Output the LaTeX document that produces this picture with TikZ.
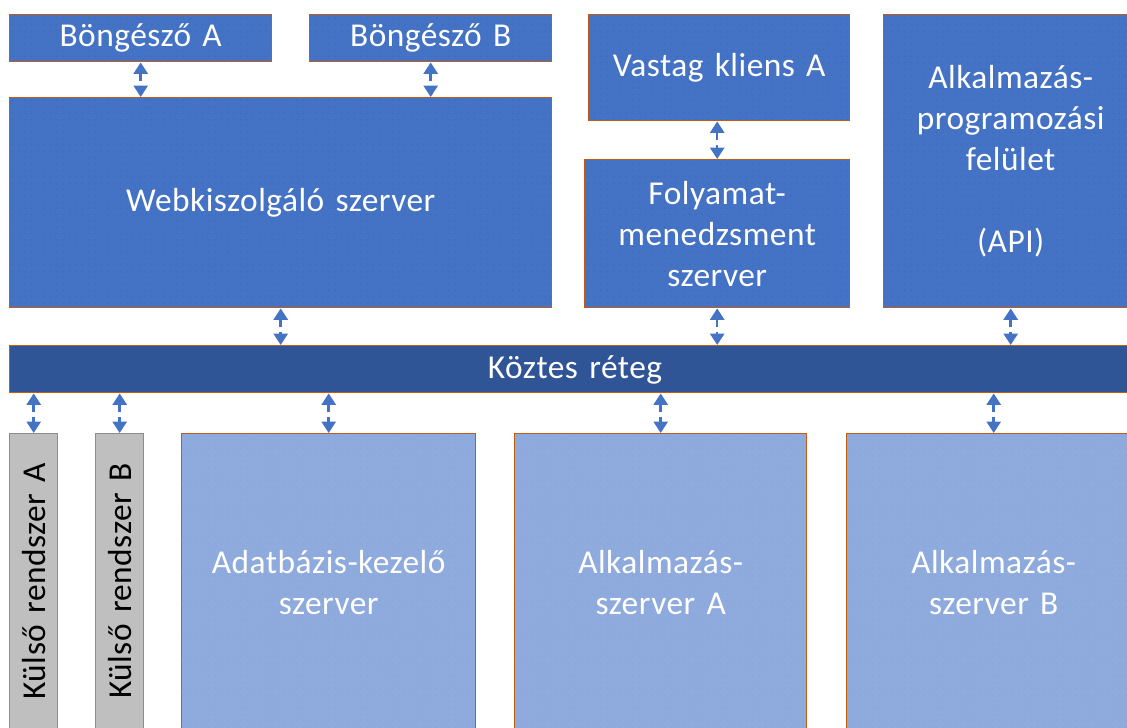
\documentclass[tikz,border=0pt]{standalone}
\usepackage{fontspec}
\setmainfont{Carlito}[LetterSpace=1.5, WordSpace=1.4]
\usepackage{xcolor}
\usetikzlibrary{arrows.meta}
\usetikzlibrary{patterns.meta}

\definecolor{blok}{HTML}{4472C4}
\definecolor{blokpont}{HTML}{3A64B0}
\definecolor{kozep}{HTML}{2F5597}
\definecolor{halvany}{HTML}{8FAADC}
\definecolor{szurke}{HTML}{BFBFBF}
\definecolor{keret}{HTML}{C55A11}

% fine speckle for the filled boxes
\tikzdeclarepattern{
	name=pottyos,
	type=uncolored,
	bottom left={(-.5pt,-.5pt)},
	top right={(.5pt,.5pt)},
	tile size={(3.6pt,3.6pt)},
	code={\fill (0pt,0pt) circle (.3pt);}
}

\begin{document}
\begin{tikzpicture}[
	font=\fontsize{19}{23.3}\selectfont,
	doboz/.style={draw=keret, line width=0.8pt, anchor=north west, inner sep=0pt,
		align=center, text=white},
	sotet/.style={doboz, fill=blok, postaction={pattern=pottyos, pattern color=blokpont}},
	vilagos/.style={doboz, fill=halvany, postaction={pattern=pottyos, pattern color=halvany!85!blok}},
	kulso/.style={draw=black!45, fill=szurke, line width=0.8pt, rotate=90, anchor=north east,
		inner sep=0pt, minimum width=5.9cm, minimum height=0.96cm, text=black},
	kapcs/.style={{Triangle[length=6.5pt,width=8pt]}-{Triangle[length=6.5pt,width=8pt]},
		draw=blok, line width=1.4pt, dash pattern=on 4.5pt off 3pt}
]
	\useasboundingbox (0,0) rectangle (22.54,-14.54);
	% upper row
	\node[sotet, minimum width=5.24cm, minimum height=0.94cm] (bongA) at (0.18,-0.28) {Böngésző A};
	\node[sotet, minimum width=4.84cm, minimum height=0.94cm] (bongB) at (6.18,-0.28) {Böngésző B};
	\node[sotet, minimum width=5.22cm, minimum height=2.12cm] (vastag) at (11.76,-0.28) {Vastag kliens A};
	\node[sotet, minimum width=5.08cm, minimum height=5.86cm] (api) at (17.66,-0.28)
		{Alkalmazás-\\programozási\\felület\\[23pt](API)};
	\node[sotet, minimum width=10.84cm, minimum height=4.2cm] (web) at (0.18,-1.94) {Webkiszolgáló szerver};
	\node[sotet, minimum width=5.3cm, minimum height=2.96cm] (folyamat) at (11.68,-3.18)
		{Folyamat-\\menedzsment\\szerver};
	% middleware bar
	\node[doboz, fill=kozep, minimum width=22.6cm, minimum height=0.94cm] (koztes) at (0.18,-6.9) {};
	\node[text=white] (koztesfelirat) at (11.5,-7.4) {Köztes réteg};
	% lower row
	\node[kulso] (kulsoA) at (0.18,-8.66) {Külső rendszer A};
	\node[kulso] (kulsoB) at (1.9,-8.66) {Külső rendszer B};
	\node[vilagos, minimum width=5.88cm, minimum height=5.95cm] (adatb) at (3.62,-8.66)
		{Adatbázis-kezelő\\szerver};
	\node[vilagos, minimum width=5.84cm, minimum height=5.95cm] (alkA) at (10.28,-8.66)
		{Alkalmazás-\\szerver A};
	\node[vilagos, minimum width=5.88cm, minimum height=5.95cm] (alkB) at (16.92,-8.66)
		{Alkalmazás-\\szerver B};

	% connectors
	\draw[kapcs] (bongA.south) -- (bongA.south |- web.north);
	\draw[kapcs] (bongB.south) -- (bongB.south |- web.north);
	\draw[kapcs] (vastag.south -| folyamat.north) -- (folyamat.north);
	\draw[kapcs] (web.south) -- (web.south |- koztes.north);
	\draw[kapcs] (folyamat.south) -- (folyamat.south |- koztes.north);
	\draw[kapcs] (api.south) -- (api.south |- koztes.north);
	\draw[kapcs] (koztes.south -| kulsoA.east) -- (kulsoA.east);
	\draw[kapcs] (koztes.south -| kulsoB.east) -- (kulsoB.east);
	\draw[kapcs] (koztes.south -| adatb.north) -- (adatb.north);
	\draw[kapcs] (koztes.south -| alkA.north) -- (alkA.north);
	\draw[kapcs] (koztes.south -| alkB.north) -- (alkB.north);
\end{tikzpicture}
\end{document}
